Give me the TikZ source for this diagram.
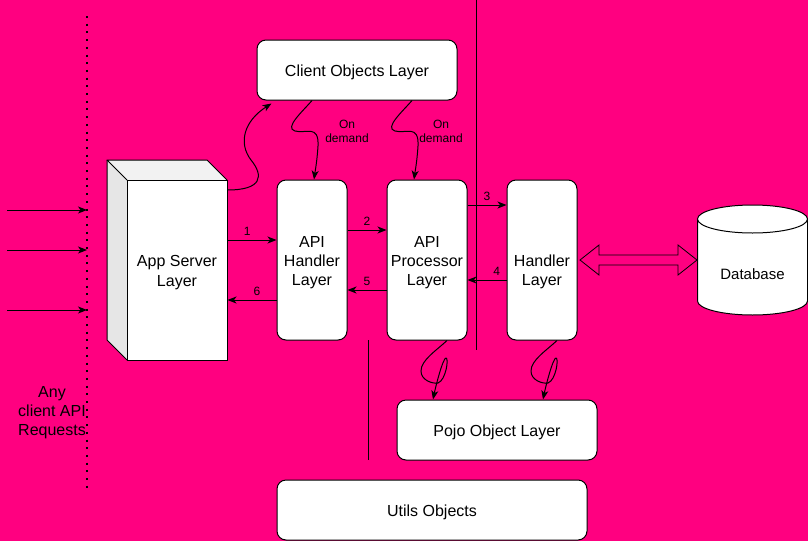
\documentclass[tikz,border=0pt]{standalone}
\usepackage{fontspec}
\setmainfont{Liberation Sans}
\usetikzlibrary{arrows.meta,calc}
\definecolor{bgpink}{HTML}{FF0080}
\definecolor{sidegray}{HTML}{E6E6E6}
\definecolor{topgray}{HTML}{F2F2F2}
\begin{document}
\begin{tikzpicture}[x=1pt,y=-1pt,
  every node/.style={font=\fontsize{16}{19.2}\selectfont, text=black},
  box/.style={draw, fill=white, line width=1pt, rounded corners=9pt, inner sep=0pt},
  txt/.style={align=center, inner sep=0pt},
  arr/.style={line width=1pt, -{Stealth[length=9pt,width=7pt,inset=2.5pt]}},
  lbl/.style={font=\fontsize{12}{14.4}\selectfont, inner sep=0pt, align=center},
  thinline/.style={line width=1pt}]
\fill[bgpink] (0,0) rectangle (808,541);
\useasboundingbox (0,0) rectangle (808,541);

% dotted boundary and incoming requests
\coordinate (dtop) at (87,16);
\coordinate (dbot) at (87,490);
\draw[line width=2pt, dash pattern=on 2pt off 5.7pt] (dtop) -- (dbot);
\coordinate (in1) at (7,210);
\coordinate (in2) at (7,250);
\coordinate (in3) at (7,310);
\draw[arr] (in1) -- (dtop |- in1);
\draw[arr] (in2) -- (dtop |- in2);
\draw[arr] (in3) -- (dtop |- in3);
\node[txt] (req) at (52,412.5) {Any\\client API\\Requests};

% separators
\coordinate (v1a) at (476,0);
\coordinate (v1b) at (476,350);
\draw[thinline] (v1a) -- (v1b);
\coordinate (v2a) at (368,340);
\coordinate (v2b) at (368,460);
\draw[thinline] (v2a) -- (v2b);

% app server cube
\fill[sidegray] (107,160) -- (127,180) -- (127,360) -- (107,340) -- cycle;
\fill[topgray] (107,160) -- (207,160) -- (227,180) -- (127,180) -- cycle;
\node[draw, fill=white, line width=1pt, minimum width=100pt, minimum height=180pt, inner sep=0pt] (app) at (177,270) {};
\node[txt] (appt) at ($(app)+(0,2.5)$) {App Server\\Layer};
\draw[thinline, line join=round] (127,180) -- (107,160) -- (207,160) -- (227,180);
\draw[thinline, line join=round] (107,160) -- (107,340) -- (127,360);

% boxes
\node[box, minimum width=200pt, minimum height=60pt] (client) at (357,70) {};
\node[txt] (clientt) at ($(client)+(0,2.5)$) {Client Objects Layer};
\node[box, minimum width=70pt, minimum height=160pt] (apih) at (312,260) {};
\node[txt] (apiht) at ($(apih)+(0,2.5)$) {API\\Handler\\Layer};
\node[box, minimum width=80pt, minimum height=160pt] (proc) at (427,260) {};
\node[txt] (proct) at ($(proc)+(0,2.5)$) {API\\Processor\\Layer};
\node[box, minimum width=70pt, minimum height=160pt] (hand) at (542,260) {};
\node[txt] (handt) at ($(hand)+(0,12)$) {Handler\\Layer};
\node[box, minimum width=200pt, minimum height=60pt] (pojo) at (497,430) {};
\node[txt] (pojot) at ($(pojo)+(0,2.5)$) {Pojo Object Layer};
\node[box, minimum width=310pt, minimum height=60pt] (utils) at (432,510) {};
\node[txt] (utilst) at ($(utils)+(0,2.5)$) {Utils Objects};

% database cylinder
\draw[thinline, fill=white] (697.5,219) -- (697.5,301) .. controls (697.5,308.7) and (722.1,315) .. (752.5,315) .. controls (782.9,315) and (807.5,308.7) .. (807.5,301) -- (807.5,219) -- cycle;
\draw[thinline, fill=white] (752.5,219) ellipse [x radius=55, y radius=14];
\node[font=\fontsize{15}{18}\selectfont, inner sep=0pt] (db) at (752.5,274.5) {Database};

% double arrow handler <-> database
\draw[line width=0.8pt, fill=bgpink, line join=miter] (580,260) -- (599,245) -- (599,255) -- (678,255) -- (678,245) -- (697,260) -- (678,275) -- (678,265) -- (599,265) -- (599,275) -- cycle;

% numbered flows
\draw[arr] (app.east |- 0,240) -- (apih.west |- 0,240) node[lbl, pos=0.4, yshift=9pt] {1};
\draw[arr] (apih.west |- 0,300) -- (app.east |- 0,300) node[lbl, pos=0.4, yshift=9pt] {6};
\draw[arr] (apih.east |- 0,230) -- (proc.west |- 0,230) node[lbl, pos=0.5, yshift=9pt] {2};
\draw[arr] (proc.west |- 0,290) -- (apih.east |- 0,290) node[lbl, pos=0.5, yshift=9pt] {5};
\draw[arr] (proc.east |- 0,205) -- (hand.west |- 0,205) node[lbl, pos=0.5, yshift=9pt] {3};
\draw[arr] (hand.west |- 0,280) -- (proc.east |- 0,280) node[lbl, pos=0.25, yshift=9pt] {4};

% curly connectors
\draw[arr] (app.north east |- 0,190) .. controls (262,190) and (264,176) .. (251,160) .. controls (238,143) and (244,121) .. ($(client.south west)+(15,3)$);
\draw[arr] (312,0 |- client.south) .. controls (302,112) and (284,128) .. (295,131) .. controls (306,134) and (319,124) .. (318,146) .. controls (317,162) and (315,172) .. (314,0 |- apih.north);
\draw[arr] (412,0 |- client.south) .. controls (402,112) and (384,128) .. (395,131) .. controls (406,134) and (419,124) .. (418,146) .. controls (417,162) and (415,172) .. (414,0 |- proc.north);
\node[lbl] (od1) at (347,131.5) {On\\demand};
\node[lbl] (od2) at (441,131.5) {On\\demand};

\draw[arr] (447,0 |- proc.south) .. controls (437,350) and (421,360) .. (421,371) .. controls (421,380) and (432,384) .. (438,383) .. controls (446,380) and (449,358) .. (446,358) .. controls (443,358) and (436,385) .. (433,0 |- pojo.north);
\draw[arr] (557,0 |- hand.south) .. controls (547,350) and (531,360) .. (531,371) .. controls (531,380) and (542,384) .. (548,383) .. controls (556,380) and (559,358) .. (556,358) .. controls (553,358) and (546,385) .. (543,0 |- pojo.north);
\end{tikzpicture}
\end{document}
